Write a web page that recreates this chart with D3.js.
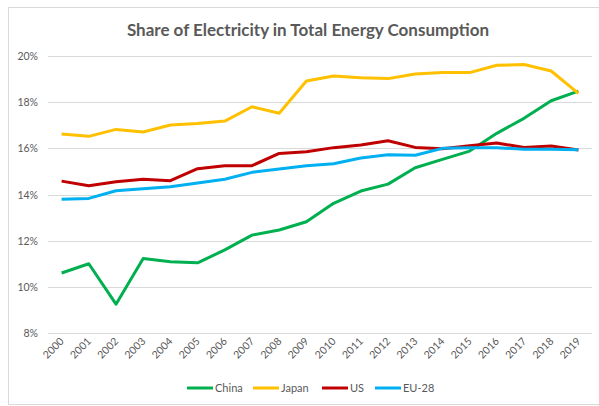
<!DOCTYPE html>
<html>
<head>
<meta charset="utf-8">
<script src="https://cdn.jsdelivr.net/npm/d3@7"></script>
<style>
  body { margin: 0; background: #fff; }
  svg { display: block; font-family: Lato, "Open Sans", sans-serif; }
</style>
</head>
<body>
<div id="chart"></div>
<script>
const years = ['2000', '2001', '2002', '2003', '2004', '2005', '2006', '2007', '2008', '2009',
               '2010', '2011', '2012', '2013', '2014', '2015', '2016', '2017', '2018', '2019'];
const china = [10.6, 11.0, 9.25, 11.23, 11.09, 11.04, 11.6, 12.24, 12.46, 12.82,
               13.62, 14.15, 14.45, 15.16, 15.52, 15.88, 16.65, 17.3, 18.06, 18.48];
const japan = [16.62, 16.52, 16.82, 16.71, 17.01, 17.08, 17.18, 17.8, 17.52, 18.92,
               19.13, 19.06, 19.02, 19.22, 19.28, 19.28, 19.6, 19.63, 19.35, 18.38];
const us    = [14.58, 14.38, 14.55, 14.66, 14.6, 15.12, 15.25, 15.25, 15.78, 15.85,
               16.03, 16.14, 16.33, 16.04, 15.98, 16.11, 16.23, 16.04, 16.1, 15.93];
const eu28  = [13.79, 13.83, 14.16, 14.25, 14.34, 14.5, 14.66, 14.96, 15.1, 15.25,
               15.33, 15.58, 15.72, 15.7, 16.0, 16.03, 16.03, 15.96, 15.96, 15.94];
const yTicks = [8, 10, 12, 14, 16, 18, 20];

const series = [
  { name: 'China', values: china, color: '#00B050' },
  { name: 'Japan', values: japan, color: '#FFC000' },
  { name: 'US', values: us, color: '#C00000' },
  { name: 'EU-28', values: eu28, color: '#00B0F0' }
];

const W = 599, H = 406;
const svg = d3.select('#chart').append('svg')
    .attr('width', W)
    .attr('height', H);

// chart frame
svg.append('rect')
    .attr('x', 8.5).attr('y', 7.5)
    .attr('width', 600).attr('height', 397)
    .attr('fill', 'none')
    .attr('stroke', '#d9d9d9');

svg.append('text')
    .attr('x', 308).attr('y', 36)
    .attr('text-anchor', 'middle')
    .attr('font-size', 17)
    .attr('font-weight', 'bold')
    .attr('fill', '#595959')
    .text('Share of Electricity in Total Energy Consumption');

const x = d3.scalePoint()
    .domain(years)
    .range([48, 592])
    .padding(0.5);

const y = d3.scaleLinear()
    .domain([8, 20])
    .range([333, 56]);

// gridlines
svg.append('g')
    .selectAll('line')
    .data(yTicks)
    .enter().append('line')
    .attr('x1', 48).attr('x2', 592)
    .attr('y1', d => Math.round(y(d)) + 0.5)
    .attr('y2', d => Math.round(y(d)) + 0.5)
    .attr('stroke', '#d9d9d9')
    .attr('stroke-width', 1);

// y labels
svg.append('g')
    .selectAll('text')
    .data(yTicks)
    .enter().append('text')
    .attr('x', 38)
    .attr('y', d => y(d) + 4)
    .attr('text-anchor', 'end')
    .attr('font-size', 10.5)
    .attr('fill', '#595959')
    .text(d => d + '%');

// x labels, rotated
svg.append('g')
    .selectAll('text')
    .data(years)
    .enter().append('text')
    .attr('transform', d => 'translate(' + (x(d) + 3) + ',342) rotate(-45)')
    .attr('text-anchor', 'end')
    .attr('font-size', 10.5)
    .attr('fill', '#595959')
    .text(d => d);

const line = d3.line()
    .x((d, i) => x(years[i]))
    .y(d => y(d));

svg.append('g')
    .selectAll('path')
    .data(series)
    .enter().append('path')
    .attr('d', d => line(d.values))
    .attr('fill', 'none')
    .attr('stroke', d => d.color)
    .attr('stroke-width', 3)
    .attr('stroke-linejoin', 'round');

// legend
const legendX = [187, 253, 322, 375];
const legend = svg.append('g')
    .selectAll('g')
    .data(series)
    .enter().append('g')
    .attr('transform', (d, i) => 'translate(' + legendX[i] + ',388)');

legend.append('line')
    .attr('x1', 0).attr('x2', 26)
    .attr('stroke', d => d.color)
    .attr('stroke-width', 3);

legend.append('text')
    .attr('x', 28)
    .attr('y', 4)
    .attr('font-size', 11)
    .attr('fill', '#595959')
    .text(d => d.name);
</script>
</body>
</html>
